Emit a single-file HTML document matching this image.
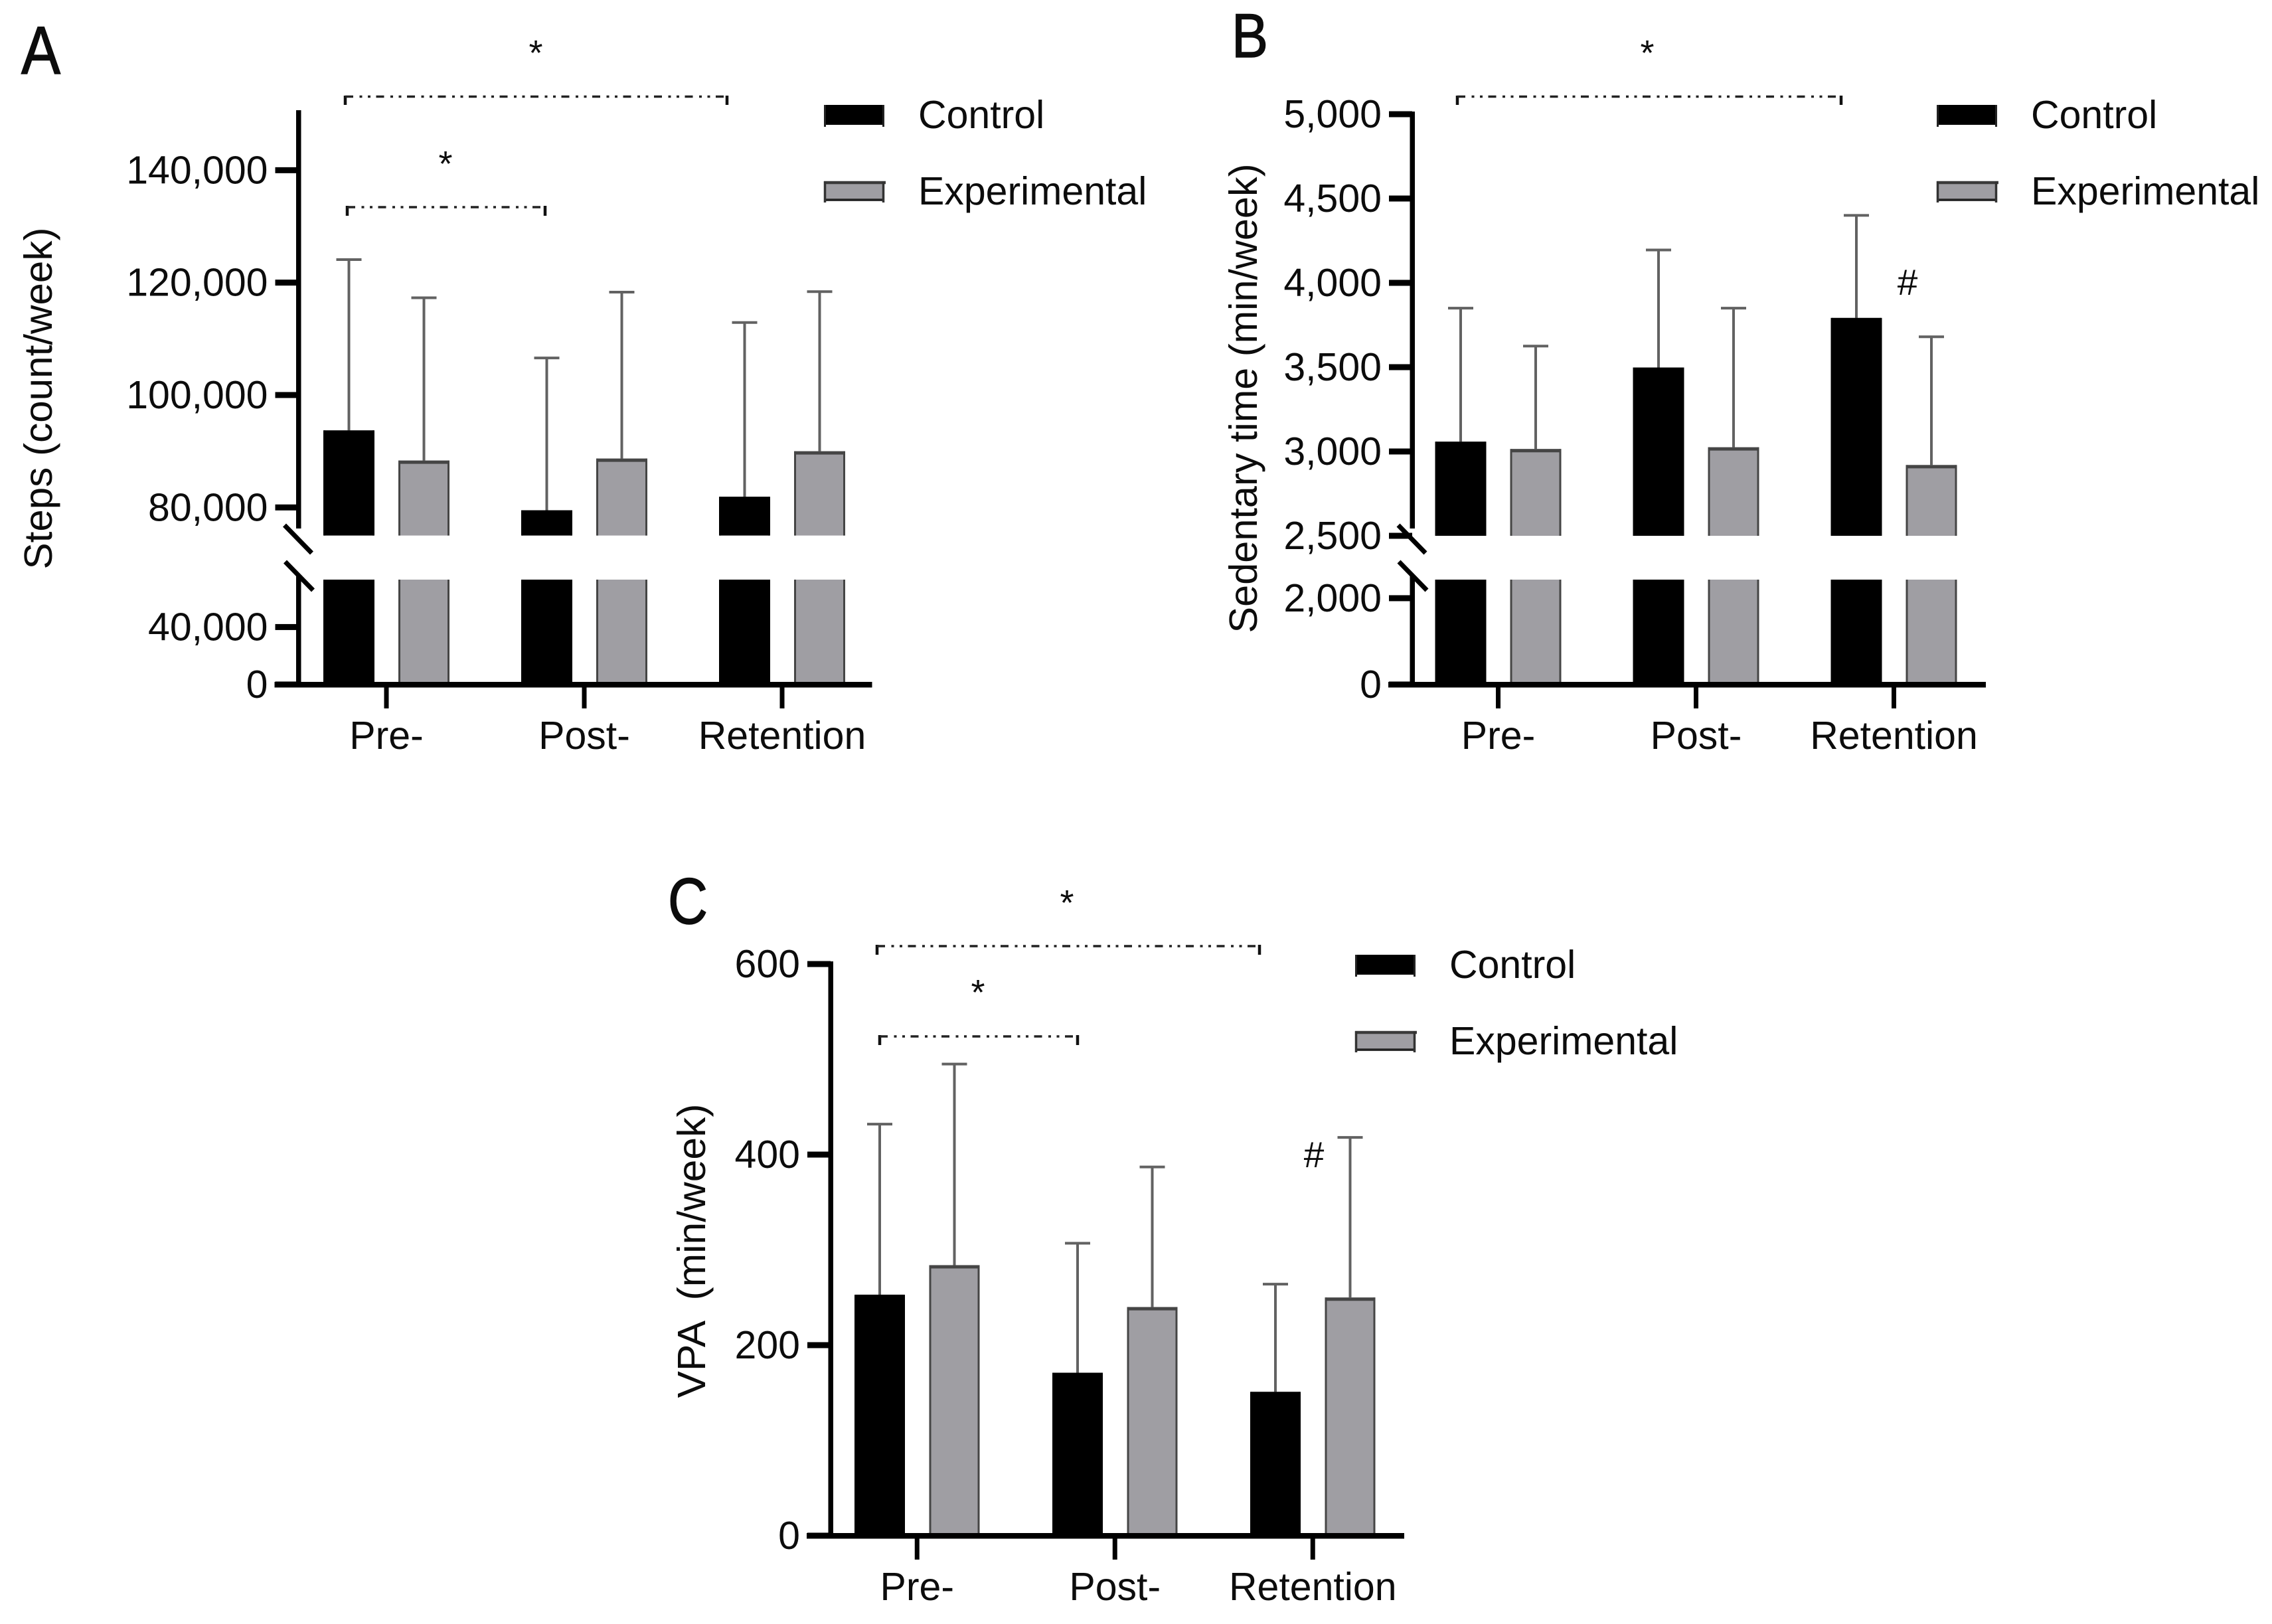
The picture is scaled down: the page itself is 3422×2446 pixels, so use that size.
<!DOCTYPE html>
<html lang="en">
<head>
<meta charset="utf-8">
<title>Steps, sedentary time and VPA bar charts</title>
<style>
html,body{margin:0;padding:0;background:#fff;}
svg{display:block;}
text{font-family:"Liberation Sans",sans-serif;fill:#0c0c0c;white-space:pre;}
.lbl{font-size:59px;}
.star{font-size:54px;text-anchor:middle;}
.dash{stroke:#222;stroke-width:3.5;stroke-dasharray:12 9.5 4 8.5 4 8.5;fill:none;}
.leg{stroke:#111;stroke-width:4.5;fill:none;}
</style>
</head>
<body>
<svg id="figure" xmlns="http://www.w3.org/2000/svg" width="3422" height="2446" viewBox="0 0 3422 2446">
  <rect x="0" y="0" width="3422" height="2446" fill="#fff"/>

  <text x="32" y="111" font-size="102" textLength="59" lengthAdjust="spacingAndGlyphs" stroke="#0c0c0c" stroke-width="1.5">A</text>
  <text x="1855" y="86" font-size="94" textLength="55" lengthAdjust="spacingAndGlyphs" stroke="#0c0c0c" stroke-width="1.5">B</text>
  <text x="1006" y="1391" font-size="98" textLength="60" lengthAdjust="spacingAndGlyphs" stroke="#0c0c0c" stroke-width="1.5">C</text>

  <g>
    <path class="leg" d="M520 158V144"/><path class="leg" d="M1095 158V144"/><path class="dash" d="M520 145.5H1095"/>
    <text class="star" x="807" y="98">*</text>
  </g>
  <g>
    <path class="leg" d="M523 325V310"/><path class="leg" d="M821 325V310"/><path class="dash" d="M523 312H821"/>
    <text class="star" x="671" y="265">*</text>
  </g>
  <g>
    <path class="leg" d="M2195 158V144"/><path class="leg" d="M2773 158V144"/><path class="dash" d="M2195 145.5H2773"/>
    <text class="star" x="2481" y="98">*</text>
  </g>
  <text x="2873" y="444" font-size="55" text-anchor="middle">#</text>
  <g>
    <path class="leg" d="M1321 1438V1423"/><path class="leg" d="M1897 1438V1423"/><path class="dash" d="M1321 1425H1897"/>
    <text class="star" x="1607" y="1378">*</text>
  </g>
  <g>
    <path class="leg" d="M1325 1574V1559"/><path class="leg" d="M1623 1574V1559"/><path class="dash" d="M1325 1561H1623"/>
    <text class="star" x="1473" y="1513">*</text>
  </g>
  <text x="1979" y="1758" font-size="55" text-anchor="middle">#</text>

  <g id="charts"></g>
</svg>
<script>
const categories = ['Pre-', 'Post-', 'Retention'];
const legendLabels = ['Control', 'Experimental'];

const stepsControl = [93700, 79500, 81900];
const stepsExperimental = [88350, 88700, 90000];
const stepsControlUpper = [124100, 106600, 112900];
const stepsExperimentalUpper = [117300, 118300, 118400];
const stepsTicks = [0, 40000, 80000, 100000, 120000, 140000];
const stepsTickLabels = ['0', '40,000', '80,000', '100,000', '120,000', '140,000'];

const sedentaryControl = [3058, 3498, 3792];
const sedentaryExperimental = [3015, 3025, 2920];
const sedentaryControlUpper = [3850, 4195, 4400];
const sedentaryExperimentalUpper = [3625, 3850, 3680];
const sedentaryTicks = [0, 2000, 2500, 3000, 3500, 4000, 4500, 5000];
const sedentaryTickLabels = ['0', '2,000', '2,500', '3,000', '3,500', '4,000', '4,500', '5,000'];

const vpaControl = [253, 171, 151];
const vpaExperimental = [284, 240, 250];
const vpaControlUpper = [432, 307, 264];
const vpaExperimentalUpper = [495, 387, 418];
const vpaTicks = [0, 200, 400, 600];
const vpaTickLabels = ['0', '200', '400', '600'];

const SVGNS = 'http://www.w3.org/2000/svg';
const root = document.getElementById('charts');
const GRAY = '#9f9ea3';
const EDGE = '#454545';

function mk(parent, tag, attrs, txt) {
  const el = document.createElementNS(SVGNS, tag);
  for (const k in attrs) el.setAttribute(k, attrs[k]);
  if (txt !== undefined) el.textContent = txt;
  parent.appendChild(el);
  return el;
}

function makeScale(segments) {
  return function (v) {
    for (const s of segments) {
      if (v >= s.v0 && v <= s.v1) return s.y0 + (v - s.v0) * (s.y1 - s.y0) / (s.v1 - s.v0);
    }
    const last = segments[segments.length - 1];
    return last.y0 + (v - last.v0) * (last.y1 - last.y0) / (last.v1 - last.v0);
  };
}

function drawBar(g, name, cx, value, upper, series, p) {
  const w = p.barWidth;
  const fill = series === 0 ? '#000' : GRAY;
  const edge = series === 0 ? '#000' : EDGE;
  const y = p.yScale;

  const err = mk(g, 'path', { d: 'M' + cx + ' ' + y(value) + 'V' + y(upper) + 'M' + (cx - 19) + ' ' + y(upper) + 'H' + (cx + 19), stroke: '#626262', 'stroke-width': 4, fill: 'none' });
  
  

  const pieces = [];
  if (p.segments.length === 1) {
    pieces.push({ top: y(value), bottom: y(0), head: true });
  } else {
    const low = p.segments[0], high = p.segments[1];
    pieces.push({ top: low.y1, bottom: low.y0, head: false });
    if (value >= high.v0) pieces.push({ top: y(value), bottom: high.y0, head: true });
  }
  pieces.forEach(function (b, idx) {
    const rect = mk(g, 'rect', { x: cx - w / 2, y: b.top, width: w, height: b.bottom - b.top, fill: fill });
    
    
    mk(g, 'path', { d: 'M' + (cx - w / 2) + ' ' + b.top + 'V' + b.bottom + 'M' + (cx + w / 2) + ' ' + b.top + 'V' + b.bottom, stroke: edge, 'stroke-width': 3, fill: 'none' });
    if (b.head) {
      mk(g, 'path', { d: 'M' + (cx - w / 2 - 1.5) + ' ' + (b.top + 2.5) + 'H' + (cx + w / 2 + 1.5), stroke: edge, 'stroke-width': 5, fill: 'none' });
    }
  });
}

function drawPanel(p) {
  const g = mk(root, 'g', {});
  
  
  p.yScale = makeScale(p.segments);
  const y = p.yScale;
  const baseY = y(0);

  /* bars */
  categories.forEach(function (cat, i) {
    const cx0 = p.x0 + i * p.spacing;
    drawBar(g, p.id + '-control-' + i, cx0, p.control[i], p.controlUpper[i], 0, p);
    drawBar(g, p.id + '-experimental-' + i, cx0 + p.sep, p.experimental[i], p.experimentalUpper[i], 1, p);
  });

  /* y axis */
  const axis = mk(g, 'g', {});
  
  
  if (p.segments.length === 1) {
    mk(axis, 'rect', { x: p.axisX - 3.5, y: p.axisTop, width: 7.5, height: baseY - p.axisTop, fill: '#000' });
  } else {
    mk(axis, 'rect', { x: p.axisX - 3.5, y: p.axisTop, width: 7.5, height: 796 - p.axisTop, fill: '#000' });
    mk(axis, 'rect', { x: p.axisX - 3.5, y: 868, width: 7.5, height: baseY - 868, fill: '#000' });
    mk(axis, 'path', { d: 'M' + (p.axisX - 21) + ' 791L' + (p.axisX + 20) + ' 833', stroke: '#000', 'stroke-width': 7, fill: 'none' });
    mk(axis, 'path', { d: 'M' + (p.axisX - 20) + ' 846L' + (p.axisX + 22) + ' 889', stroke: '#000', 'stroke-width': 7, fill: 'none' });
  }
  p.ticks.forEach(function (t, i) {
    const ty = y(t);
    const tick = mk(axis, 'rect', { x: p.axisX - 35, y: ty - 4.5, width: 35, height: 9, fill: '#000' });
    
    
    const lab = mk(axis, 'text', { class: 'lbl', x: p.axisX - 46, y: ty + 20, 'text-anchor': 'end' }, p.tickLabels[i]);
    
    
  });

  /* y title */
  const title = mk(g, 'text', { class: 'lbl', transform: 'translate(' + p.titleX + ' ' + p.titleY + ') rotate(-90)', 'text-anchor': 'middle', textLength: p.titleLen, lengthAdjust: 'spacingAndGlyphs' }, p.title);
  
  

  /* x axis */
  const xAxis = mk(g, 'g', {});
  
  
  mk(xAxis, 'rect', { x: p.axisX - 36, y: baseY - 4, width: 900, height: 8.5, fill: '#000' });
  categories.forEach(function (cat, i) {
    const cx = p.x0 + i * p.spacing + p.sep / 2;
    const tick = mk(xAxis, 'rect', { x: cx - 3.5, y: baseY, width: 7, height: 36, fill: '#000' });
    
    
    const lab = mk(xAxis, 'text', { class: 'lbl', x: cx, y: baseY + 97, 'text-anchor': 'middle' }, cat);
    
    
  });

  /* legend */
  legendLabels.forEach(function (name, s) {
    const ly = p.legendY + s * 115;
    const entry = mk(g, 'g', {});
    
    
    mk(entry, 'rect', { x: p.legendX, y: ly, width: 91, height: 30, fill: s === 0 ? '#000' : GRAY });
    if (s === 0) {
      mk(entry, 'path', { d: 'M' + (p.legendX + 1.5) + ' ' + ly + 'V' + (ly + 33) + 'M' + (p.legendX + 89.5) + ' ' + ly + 'V' + (ly + 33), stroke: '#222', 'stroke-width': 3, fill: 'none' });
    } else {
      mk(entry, 'path', { d: 'M' + p.legendX + ' ' + (ly + 2) + 'H' + (p.legendX + 93), stroke: '#3a3a3a', 'stroke-width': 4.5, fill: 'none' });
      mk(entry, 'path', { d: 'M' + p.legendX + ' ' + (ly + 28) + 'H' + (p.legendX + 91), stroke: '#222', 'stroke-width': 3.5, fill: 'none' });
      mk(entry, 'path', { d: 'M' + (p.legendX + 1.5) + ' ' + ly + 'V' + (ly + 32) + 'M' + (p.legendX + 89.5) + ' ' + ly + 'V' + (ly + 32), stroke: '#333', 'stroke-width': 3.5, fill: 'none' });
    }
    mk(entry, 'text', { class: 'lbl', x: p.legendX + 142, y: ly + 35 }, name);
  });
}

drawPanel({
  id: 'a', title: 'Steps (count/week)', titleX: 78, titleY: 600, titleLen: 515,
  control: stepsControl, experimental: stepsExperimental,
  controlUpper: stepsControlUpper, experimentalUpper: stepsExperimentalUpper,
  ticks: stepsTicks, tickLabels: stepsTickLabels,
  segments: [{ v0: 0, v1: 73000, y0: 1031, y1: 873 }, { v0: 75000, v1: 150000, y0: 806.6, y1: 171.7 }],
  axisX: 449.5, axisTop: 166, x0: 525.5, spacing: 298, sep: 113, barWidth: 74,
  legendX: 1241, legendY: 158
});

drawPanel({
  id: 'b', title: 'Sedentary time (min/week)', titleX: 1893, titleY: 600, titleLen: 707,
  control: sedentaryControl, experimental: sedentaryExperimental,
  controlUpper: sedentaryControlUpper, experimentalUpper: sedentaryExperimentalUpper,
  ticks: sedentaryTicks, tickLabels: sedentaryTickLabels,
  segments: [{ v0: 0, v1: 2430, y0: 1031, y1: 873 }, { v0: 2500, v1: 5000, y0: 807, y1: 172 }],
  axisX: 2127, axisTop: 168, x0: 2200, spacing: 298, sep: 113, barWidth: 74,
  legendX: 2917, legendY: 158
});

drawPanel({
  id: 'c', title: 'VPA  (min/week)', titleX: 1062, titleY: 1884, titleLen: 443,
  control: vpaControl, experimental: vpaExperimental,
  controlUpper: vpaControlUpper, experimentalUpper: vpaExperimentalUpper,
  ticks: vpaTicks, tickLabels: vpaTickLabels,
  segments: [{ v0: 0, v1: 600, y0: 2313, y1: 1452 }],
  axisX: 1251, axisTop: 1448, x0: 1325, spacing: 298, sep: 112.5, barWidth: 73,
  legendX: 2041, legendY: 1438
});
</script>
</body>
</html>
